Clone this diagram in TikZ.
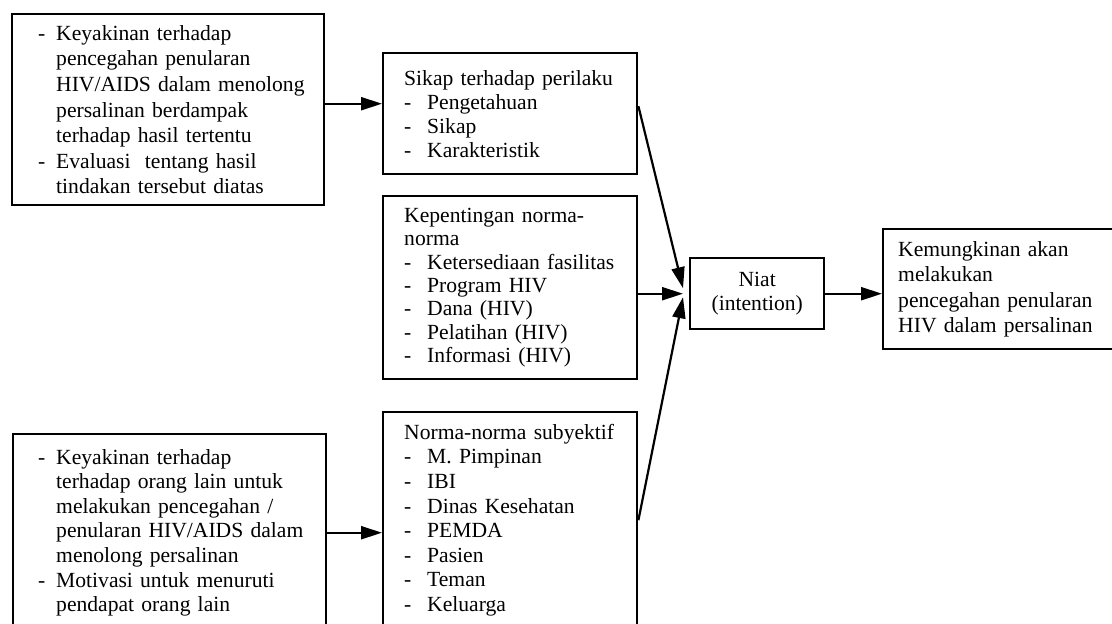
\documentclass[tikz,border=0pt]{standalone}
\usepackage{fontspec}
\setmainfont{Liberation Serif}
\usepackage{tikz}
\usetikzlibrary{arrows.meta, positioning}

\newlength\dashind
\newcommand\itmdash[1]{\makebox[\dashind][l]{-}\mbox{#1}}
\newcommand\itmcont[1]{\hspace*{\dashind}\mbox{#1}}
\newcommand\itmline[1]{\mbox{#1}}

\begin{document}
\begin{tikzpicture}[
    x=0.5pt, y=-0.5pt,
    box/.style={draw, line width=1.2pt, anchor=north west, align=left, inner ysep=0pt,
        font=\fontsize{10.8}{12.3}\selectfont},
    widebox/.style={box, inner xsep=13pt, text width=130pt, execute at begin node={\setlength\dashind{9pt}}},
    midbox/.style={box, inner xsep=10.5pt, text width=106pt, execute at begin node={\setlength\dashind{11.5pt}}},
    arrow/.style={-{Triangle[length=10.5pt, width=6.5pt]}, line width=1.1pt}
]
\useasboundingbox (0,0) rectangle (1112,623);

% Left column
\node[widebox, minimum height=95.5pt, font=\fontsize{10.8}{12.8}\selectfont] (belief) at (11,13) {%
    \itmdash{Keyakinan terhadap}\\
    \itmcont{pencegahan penularan}\\
    \itmcont{HIV/AIDS dalam menolong}\\
    \itmcont{persalinan berdampak}\\
    \itmcont{terhadap hasil tertentu}\\
    \itmdash{Evaluasi\ \ tentang hasil}\\
    \itmcont{tindakan tersebut diatas}};
\node[widebox, inner xsep=12.5pt, text width=131.5pt, minimum height=98.5pt] (normbelief) at (12,433) {%
    \itmdash{Keyakinan terhadap}\\
    \itmcont{terhadap orang lain untuk}\\
    \itmcont{melakukan pencegahan /}\\
    \itmcont{penularan HIV/AIDS dalam}\\
    \itmcont{menolong persalinan}\\
    \itmdash{Motivasi untuk menuruti}\\
    \itmcont{pendapat orang lain}};

% Middle column
\node[midbox, minimum height=60.5pt, font=\fontsize{10.8}{12}\selectfont] (attitude) at (382,52) {%
    \itmline{Sikap terhadap perilaku}\\
    \itmdash{Pengetahuan}\\
    \itmdash{Sikap}\\
    \itmdash{Karakteristik}};
\node[midbox, minimum height=91.5pt, font=\fontsize{10.8}{11.65}\selectfont] (normimp) at (382,195) {%
    \itmline{Kepentingan norma-}\\
    \itmline{norma}\\
    \itmdash{Ketersediaan fasilitas}\\
    \itmdash{Program HIV}\\
    \itmdash{Dana (HIV)}\\
    \itmdash{Pelatihan (HIV)}\\
    \itmdash{Informasi (HIV)}};
\node[midbox, minimum height=108pt] (subjnorm) at (382,411) {%
    \itmline{Norma-norma subyektif}\\
    \itmdash{M. Pimpinan}\\
    \itmdash{IBI}\\
    \itmdash{Dinas Kesehatan}\\
    \itmdash{PEMDA}\\
    \itmdash{Pasien}\\
    \itmdash{Teman}\\
    \itmdash{Keluarga}};

% Right part
\node[box, align=center, minimum width=67pt, minimum height=35.5pt] (intent) at (689,257) {Niat\\(intention)};
\node[box, inner xsep=7.5pt, text width=105pt, minimum height=60pt, font=\fontsize{10.8}{12.6}\selectfont] (outcome) at (882,228) {%
    \itmline{Kemungkinan akan}\\
    \itmline{melakukan}\\
    \itmline{pencegahan penularan}\\
    \itmline{HIV dalam persalinan}};

% Arrows
\draw[arrow] ([yshift=3pt]belief.east) -- ([yshift=3pt]belief.east -| attitude.west);
\draw[arrow] (normbelief.east) -- (normbelief.east -| subjnorm.west);
\draw[arrow] ([yshift=3.75pt]attitude.east) -- ([xshift=-3pt, yshift=2.75pt]intent.west);
\draw[arrow] (normimp.east |- intent.west) -- ([xshift=-3pt]intent.west);
\draw[arrow] (subjnorm.east) -- ([xshift=-3pt, yshift=-1.75pt]intent.west);
\draw[arrow] (intent.east) -- (intent.east -| outcome.west);

\end{tikzpicture}
\end{document}
